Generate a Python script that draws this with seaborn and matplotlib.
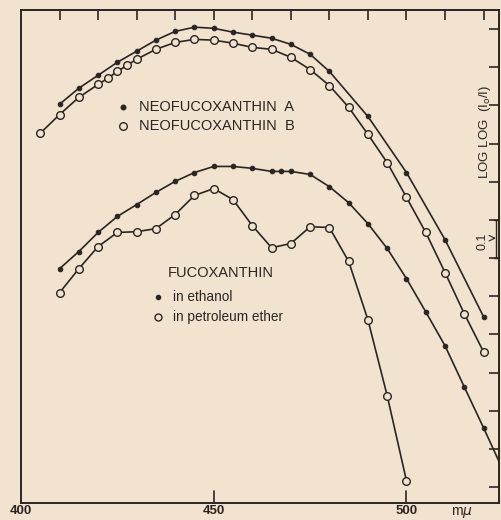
import matplotlib
matplotlib.use("Agg")
import matplotlib.pyplot as plt
import seaborn as sns
import pandas as pd

# wavelengths in m-mu, values in log log (I0/I) (ticks every 0.1)
wl_neo_a = [410, 415, 420, 425, 430, 435, 440, 445, 450, 455, 460, 465, 470, 475, 480, 490, 500, 510, 520]
neo_a = [1.003, 1.045, 1.079, 1.113, 1.142, 1.171, 1.194, 1.205, 1.202, 1.192, 1.184, 1.176, 1.160,
         1.134, 1.089, 0.971, 0.824, 0.648, 0.446]

wl_neo_b = [405, 410, 415, 420, 422.5, 425, 427.5, 430, 435, 440, 445, 450, 455, 460, 465, 470, 475,
            480, 485, 490, 495, 500, 505, 510, 515, 520]
neo_b = [0.927, 0.976, 1.021, 1.055, 1.071, 1.089, 1.105, 1.121, 1.147, 1.165, 1.173, 1.171, 1.163,
         1.152, 1.147, 1.126, 1.094, 1.052, 0.995, 0.924, 0.850, 0.759, 0.667, 0.562, 0.454, 0.354]

wl_eth = [410, 415, 420, 425, 430, 435, 440, 445, 450, 455, 460, 465, 467.5, 470, 475, 480, 485, 490,
          495, 500, 505, 510, 515, 520, 525]
fuco_eth = [0.572, 0.617, 0.667, 0.709, 0.740, 0.772, 0.801, 0.824, 0.840, 0.840, 0.835, 0.827, 0.827,
            0.827, 0.819, 0.787, 0.745, 0.690, 0.625, 0.546, 0.459, 0.370, 0.262, 0.155, 0.045]

wl_pet = [410, 415, 420, 425, 430, 435, 440, 445, 450, 455, 460, 465, 470, 475, 480, 485, 490, 495, 500]
fuco_pet = [0.509, 0.572, 0.630, 0.667, 0.669, 0.677, 0.714, 0.764, 0.782, 0.753, 0.685, 0.627, 0.638,
            0.682, 0.680, 0.591, 0.438, 0.239, 0.016]

bg = '#f2e3d1'
ink = '#2b2521'

sns.set_style('white')
plt.rcParams['font.family'] = ['Liberation Sans', 'DejaVu Sans']

fig = plt.figure(figsize=(5.01, 5.20), dpi=100, facecolor=bg)
ax = fig.add_axes([21 / 501, 17 / 520, 478 / 501, 493 / 520])
ax.set_facecolor(bg)

filled = dict(marker='o', markersize=3.3, markerfacecolor=ink, markeredgecolor=ink)
hollow = dict(marker='o', markersize=5.5, markerfacecolor=bg, markeredgecolor=ink, markeredgewidth=1.0)

series = [
    (wl_neo_a, neo_a, filled),
    (wl_neo_b, neo_b, hollow),
    (wl_eth, fuco_eth, filled),
    (wl_pet, fuco_pet, hollow),
]
for xs, ys, style in series:
    df = pd.DataFrame({'wl': xs, 'v': ys})
    sns.lineplot(data=df, x='wl', y='v', ax=ax, color=ink, linewidth=1.2,
                 sort=False, estimator=None, **style)

ax.set_xlim(400, 524)
ax.set_ylim(-0.042, 1.25)
ax.set_xlabel('')
ax.set_ylabel('')

for side in ['left', 'right', 'top', 'bottom']:
    ax.spines[side].set_visible(True)
    ax.spines[side].set_color(ink)
    ax.spines[side].set_linewidth(1.4)

ax.set_xticks(range(410, 521, 10))
ax.set_yticks([k / 10 for k in range(13)])
ax.tick_params(axis='both', which='major', direction='in', length=7, width=1.2, color=ink,
               top=True, right=True, labelbottom=False, labelleft=False)

# longer ticks at 450 and 500
for xv in [450, 500]:
    ax.plot([xv, xv], [-0.042, -0.042 + 0.032], color=ink, linewidth=1.2, clip_on=False)

# x tick labels as printed
for xv, lab in [(400, '400'), (450, '450'), (500, '500')]:
    ax.text(xv, -0.048, lab, ha='center', va='top', fontsize=9.5, fontweight='bold', color=ink)
ax.text(514.5, -0.048, 'm$\\mu$', ha='center', va='top', fontsize=10, color=ink)

# legends
ax.plot([426.5], [0.995], **filled, linestyle='none')
ax.text(430.5, 0.995, 'NEOFUCOXANTHIN  A', ha='left', va='center', fontsize=10.5, color=ink)
ax.plot([426.5], [0.947], **hollow, linestyle='none')
ax.text(430.5, 0.947, 'NEOFUCOXANTHIN  B', ha='left', va='center', fontsize=10.5, color=ink)

ax.text(438, 0.560, 'FUCOXANTHIN', ha='left', va='center', fontsize=10.5, color=ink)
ax.plot([435.5], [0.497], marker='o', markersize=3, color=ink, linestyle='none')
ax.text(439.5, 0.497, 'in ethanol', ha='left', va='center', fontsize=9.8, color=ink)
ax.plot([435.5], [0.445], marker='o', markersize=5, markerfacecolor=bg, markeredgecolor=ink,
        linestyle='none')
ax.text(439.5, 0.445, 'in petroleum ether', ha='left', va='center', fontsize=9.8, color=ink)

# right-hand axis caption and scale bar
ax.text(520.3, 0.93, 'LOG LOG  (I$_{\\rm o}$/I)', rotation=90, ha='center', va='center',
        fontsize=9.5, color=ink)
ax.text(519.7, 0.645, '0.1', rotation=90, ha='center', va='center', fontsize=9, color=ink)
ax.plot([523.2, 523.2], [0.60, 0.70], color=ink, linewidth=1.0)
ax.plot([522.6, 523.8], [0.70, 0.70], color=ink, linewidth=1.0)
ax.plot([522.6, 523.8], [0.60, 0.60], color=ink, linewidth=1.0)
ax.annotate('', xy=(523.2, 0.652), xytext=(521.8, 0.652),
            arrowprops=dict(arrowstyle='->', color=ink, lw=0.8))

fig.savefig('out.png', dpi=100, facecolor=bg)
